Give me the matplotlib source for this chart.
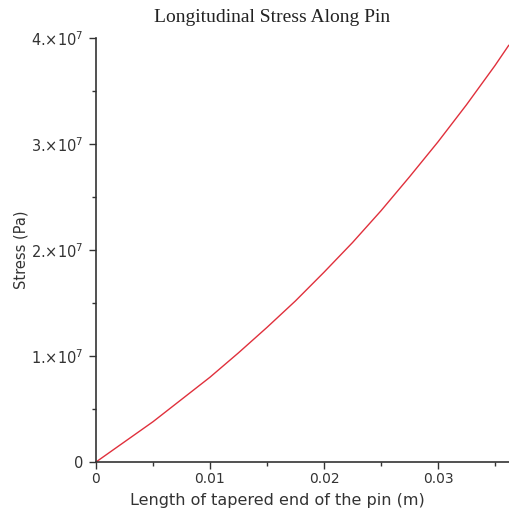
import matplotlib
matplotlib.use("Agg")
import matplotlib.pyplot as plt

# values
length = [0, 0.0025, 0.005, 0.0075, 0.01, 0.0125, 0.015, 0.0175, 0.02, 0.0225,
          0.025, 0.0275, 0.03, 0.0325, 0.035, 0.0362]
stress = [0, 0.19e7, 0.38e7, 0.59e7, 0.80e7, 1.03e7, 1.27e7, 1.52e7, 1.79e7, 2.07e7,
          2.37e7, 2.69e7, 3.02e7, 3.37e7, 3.74e7, 3.93e7]

xticks = [0, 0.01, 0.02, 0.03]
xtick_labels = ["0", "0.01", "0.02", "0.03"]
yticks = [0, 1e7, 2e7, 3e7, 4e7]
ytick_labels = ["0", r"1.$\times10^7$", r"2.$\times10^7$", r"3.$\times10^7$", r"4.$\times10^7$"]

fig = plt.figure(figsize=(5.09, 5.13), dpi=100)
ax = fig.add_axes([96 / 509, 51 / 513, 413 / 509, (462 - 38) / 513])

ax.plot(length, stress, color="#e0303c", lw=1.0, clip_on=False)

ax.set_xlim(0, 0.03623)
ax.set_ylim(0, 4e7)
ax.set_xticks(xticks)
ax.set_xticklabels(xtick_labels, fontsize=10)
ax.set_yticks(yticks)
ax.set_yticklabels(ytick_labels, fontsize=10.5)
ax.set_xticks([0.005, 0.015, 0.025, 0.035], minor=True)
ax.set_yticks([0.5e7, 1.5e7, 2.5e7, 3.5e7], minor=True)

for s in ["top", "right"]:
    ax.spines[s].set_visible(False)
for s in ["left", "bottom"]:
    ax.spines[s].set_color("#333333")
    ax.spines[s].set_linewidth(1.2)

ax.tick_params(which="major", direction="out", length=5, width=1, color="#333333",
               labelcolor="#333333")
ax.tick_params(axis="y", which="major", pad=4)
ax.tick_params(axis="x", which="major", pad=2)
ax.tick_params(which="minor", direction="out", length=3, width=1, color="#333333")

ax.set_xlabel("Length of tapered end of the pin (m)", fontsize=11.5, color="#333333")
ax.xaxis.set_label_coords((277 - 96) / 413, -(493 - 462) / 424)
ax.set_ylabel("Stress (Pa)", fontsize=10.5, color="#333333")
ax.yaxis.set_label_coords(-(96 - 28) / 413, (462 - 250) / 424)

fig.text(272 / 509, 1 - 18 / 513, "Longitudinal Stress Along Pin", fontsize=14,
         family="Liberation Serif", color="#222222", ha="center", va="center")

fig.savefig("out.png", dpi=100)
